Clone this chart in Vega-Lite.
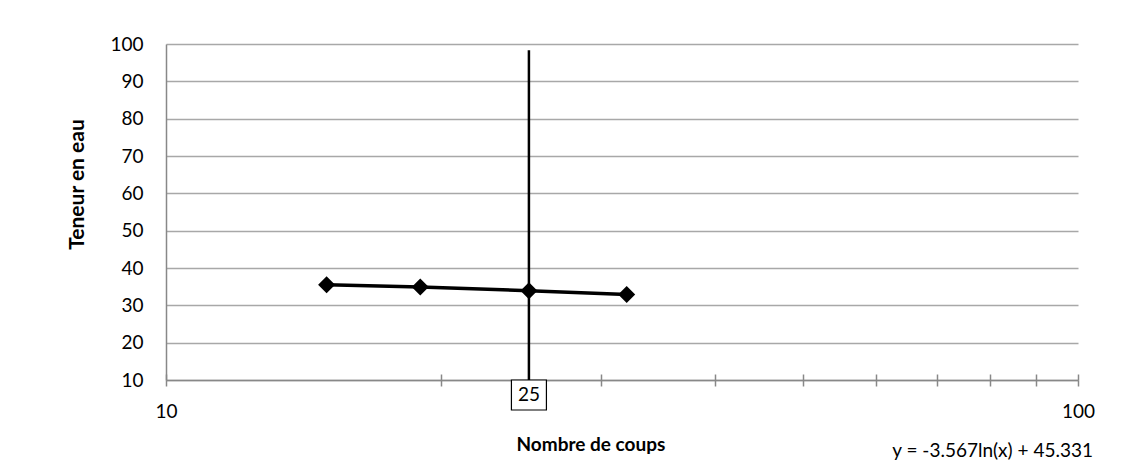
{
  "$schema": "https://vega.github.io/schema/vega-lite/v6.json",
  "width": 912,
  "height": 336,
  "autosize": {"type": "none"},
  "padding": {"left": 166, "top": 44, "right": 45, "bottom": 81},
  "background": "white",
  "config": {
    "font": "Lato",
    "view": {"stroke": null},
    "axis": {"labelColor": "black", "titleColor": "black"}
  },
  "datasets": {
    "essais": [
      {"coups": 15, "teneur": 35.5},
      {"coups": 19, "teneur": 34.9},
      {"coups": 25, "teneur": 33.9},
      {"coups": 32, "teneur": 32.9}
    ],
    "repere": [
      {"coups": 25, "teneur": 10, "haut": 98.3, "etiquette": "25"}
    ],
    "equation": [
      {"coups": 100, "teneur": 10, "texte": "y = -3.567ln(x) + 45.331"}
    ]
  },
  "encoding": {
    "y": {
      "field": "teneur",
      "type": "quantitative",
      "scale": {"domain": [10, 100], "nice": false, "zero": false},
      "axis": {
        "values": [10, 20, 30, 40, 50, 60, 70, 80, 90, 100],
        "labelOverlap": false,
        "grid": true,
        "gridColor": "#a8a8a8",
        "gridWidth": 1.5,
        "ticks": false,
        "tickSize": 0,
        "domainColor": "#888888",
        "domainWidth": 1.5,
        "labelFontSize": 19,
        "labelPadding": 23,
        "labelBaseline": "middle",
        "title": "Teneur en eau",
        "titleFontSize": 21,
        "titleFontWeight": "bold",
        "titleAngle": 270,
        "titleAlign": "center",
        "titleBaseline": "middle",
        "titleX": -89,
        "titleY": 140
      }
    }
  },
  "resolve": {"axis": {"x": "independent"}},
  "layer": [
    {
      "data": {"name": "essais"},
      "mark": {"type": "line", "color": "black", "strokeWidth": 3.5},
      "encoding": {
        "x": {
          "field": "coups",
          "type": "quantitative",
          "scale": {"type": "log", "domain": [10, 100], "nice": false},
          "axis": {
            "orient": "bottom",
            "values": [10, 20, 30, 40, 50, 60, 70, 80, 90, 100],
            "labelExpr": "datum.value == 10 || datum.value == 100 ? format(datum.value, 'd') : ''",
            "grid": false,
            "domainColor": "#888888",
            "domainWidth": 1.5,
            "tickColor": "#888888",
            "tickWidth": 1.5,
            "tickSize": 6,
            "labelFontSize": 19,
            "labelBaseline": "alphabetic",
            "labelPadding": 31,
            "labelFlush": false,
            "labelOverlap": false,
            "title": "Nombre de coups",
            "titleFontSize": 19,
            "titleFontWeight": "bold",
            "titleAnchor": "start",
            "titleAlign": "left",
            "titleBaseline": "alphabetic",
            "titleX": 350,
            "titleY": 70
          }
        }
      }
    },
    {
      "data": {"name": "essais"},
      "mark": {"type": "point", "shape": "diamond", "filled": true, "color": "black", "opacity": 1, "size": 289},
      "encoding": {
        "x": {"field": "coups", "type": "quantitative", "axis": null}
      }
    },
    {
      "data": {"name": "repere"},
      "mark": {"type": "rule", "color": "black", "strokeWidth": 2.5},
      "encoding": {
        "x": {
          "field": "coups",
          "type": "quantitative",
          "axis": {
            "orient": "top",
            "offset": -336,
            "values": [10, 20, 30, 40, 50, 60, 70, 80, 90, 100],
            "labels": false,
            "domain": false,
            "grid": false,
            "tickColor": "#888888",
            "tickWidth": 1.5,
            "tickSize": 6,
            "title": null
          }
        },
        "y2": {"field": "haut"}
      }
    },
    {
      "data": {"name": "repere"},
      "mark": {
        "type": "point",
        "shape": "M-1,-0.857L1,-0.857L1,0.857L-1,0.857Z",
        "size": 1225,
        "filled": false,
        "fill": "white",
        "stroke": "black",
        "strokeWidth": 1.2,
        "opacity": 1,
        "yOffset": 15
      },
      "encoding": {
        "x": {"field": "coups", "type": "quantitative", "axis": null}
      }
    },
    {
      "data": {"name": "repere"},
      "mark": {"type": "text", "fontSize": 19, "color": "black", "align": "center", "baseline": "middle", "yOffset": 15},
      "encoding": {
        "x": {"field": "coups", "type": "quantitative", "axis": null},
        "text": {"field": "etiquette"}
      }
    },
    {
      "data": {"name": "equation"},
      "mark": {"type": "text", "fontSize": 19, "color": "black", "align": "right", "baseline": "alphabetic", "dx": 15, "dy": 77},
      "encoding": {
        "x": {"field": "coups", "type": "quantitative", "axis": null},
        "text": {"field": "texte"}
      }
    }
  ]
}
